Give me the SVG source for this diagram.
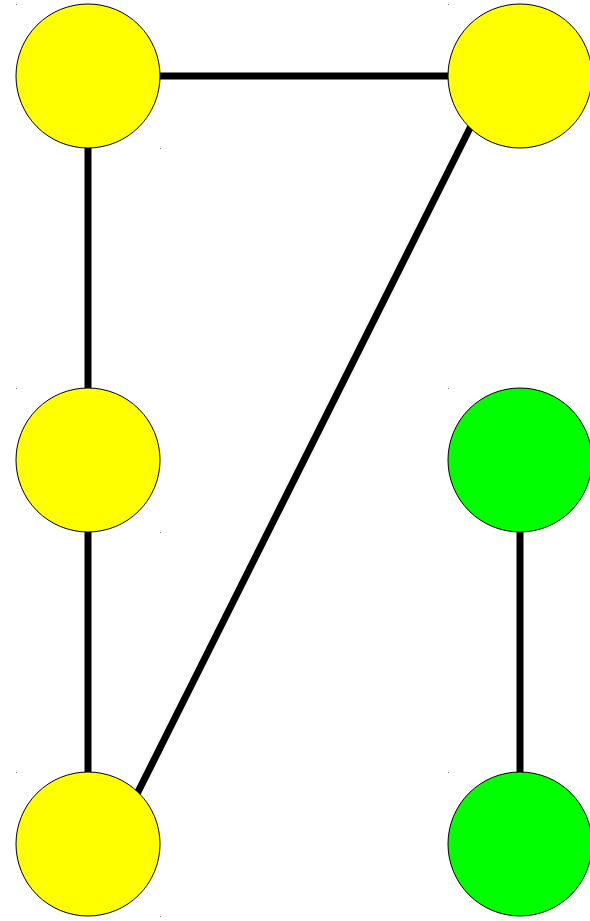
<svg xmlns="http://www.w3.org/2000/svg" width="590" height="921" viewBox="0 0 590 921">
<style>
.edge{stroke:#000;stroke-width:7;fill:none}
.node{stroke:#000;stroke-width:1}
.y{fill:#ffff00}
.g{fill:#00ff00}
.dot{fill:#999}
</style>
<rect width="590" height="921" fill="#fff"/>
<g id="edges">
<line class="edge" x1="88" y1="76" x2="520" y2="76"/>
<line class="edge" x1="88" y1="76" x2="88" y2="460"/>
<line class="edge" x1="88" y1="460" x2="88" y2="844"/>
<line class="edge" x1="520" y1="28" x2="88" y2="892"/>
<line class="edge" x1="520" y1="460" x2="520" y2="844"/>
</g>
<g id="n1"><rect class="dot" x="16" y="4" width="1" height="1"/><rect class="dot" x="160" y="148" width="1" height="1"/><circle class="node y" cx="88" cy="76" r="72"/></g>
<g id="n2"><rect class="dot" x="448" y="4" width="1" height="1"/><circle class="node y" cx="520" cy="76" r="72"/></g>
<g id="n3"><rect class="dot" x="16" y="388" width="1" height="1"/><rect class="dot" x="160" y="532" width="1" height="1"/><circle class="node y" cx="88" cy="460" r="72"/></g>
<g id="n4"><rect class="dot" x="448" y="388" width="1" height="1"/><circle class="node g" cx="520" cy="460" r="72"/></g>
<g id="n5"><rect class="dot" x="16" y="772" width="1" height="1"/><rect class="dot" x="160" y="916" width="1" height="1"/><circle class="node y" cx="88" cy="844" r="72"/></g>
<g id="n6"><rect class="dot" x="448" y="772" width="1" height="1"/><circle class="node g" cx="520" cy="844" r="72"/></g>
</svg>
